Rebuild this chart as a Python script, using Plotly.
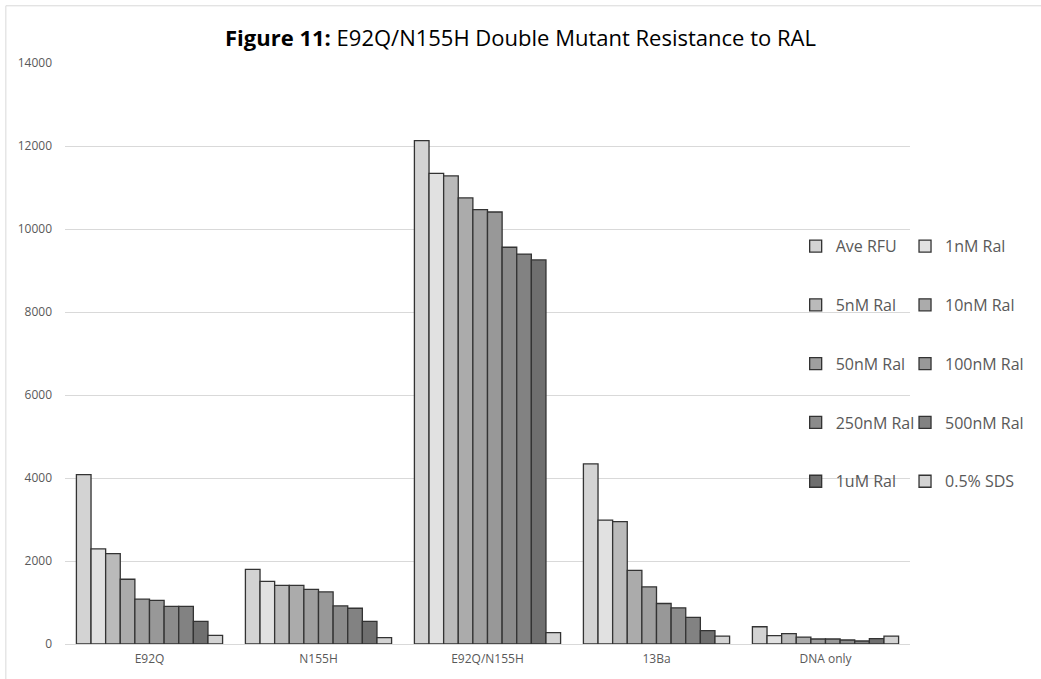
import plotly.graph_objects as go

# Categories on the x axis
samples = ["E92Q", "N155H", "E92Q/N155H", "13Ba", "DNA only"]

# Series names, in drawing order
series_names = [
    "Ave RFU", "1nM Ral", "5nM Ral", "10nM Ral", "50nM Ral",
    "100nM Ral", "250nM Ral", "500nM Ral", "1uM Ral", "0.5% SDS",
]

# Fluorescence values (RFU) per series, one value per sample
ave_rfu   = [4080, 1800, 12130, 4340, 416]
ral_1nm   = [2290, 1510, 11340, 2985, 200]
ral_5nm   = [2180, 1415, 11280, 2950, 248]
ral_10nm  = [1560, 1415, 10750, 1776, 168]
ral_50nm  = [1080, 1318, 10465, 1376, 120]
ral_100nm = [1050, 1255, 10410, 976, 120]
ral_250nm = [905, 918, 9560, 872, 96]
ral_500nm = [905, 862, 9395, 640, 72]
ral_1um   = [545, 545, 9255, 320, 128]
sds_05    = [208, 152, 272, 192, 192]

series_values = [
    ave_rfu, ral_1nm, ral_5nm, ral_10nm, ral_50nm,
    ral_100nm, ral_250nm, ral_500nm, ral_1um, sds_05,
]

# Grey ramp used for the bars
fills = [
    "#d3d3d3", "#e1e1e1", "#bababa", "#ababab", "#9f9f9f",
    "#989898", "#8b8b8b", "#828282", "#6f6f6f", "#d3d3d3",
]

TEXT_GREY = "#595959"
GRID_GREY = "#d9d9d9"
FONT = "Open Sans, Lato, Liberation Sans, sans-serif"

fig = go.Figure()
for i, (name, vals, col) in enumerate(zip(series_names, series_values, fills)):
    fig.add_trace(go.Bar(
        x=samples,
        y=vals,
        name=name,
        marker=dict(color=col, line=dict(color="#333333", width=1.3)),
        legend="legend" if i % 2 == 0 else "legend2",
        legendgroup=name,
    ))

W, H = 1041, 679
L, R, T, B = 65, 126, 63, 32
pw, ph = W - L - R, H - T - B

def px_x(x):
    return (x - L) / pw

def px_y(y):
    return (H - B - y) / ph

legend_common = dict(
    bgcolor="rgba(0,0,0,0)",
    font=dict(family=FONT, size=16, color=TEXT_GREY),
    tracegroupgap=35,
    yanchor="top",
    xanchor="left",
    itemclick=False,
)

fig.update_layout(
    width=W,
    height=H,
    margin=dict(l=L, r=R, t=T, b=B),
    paper_bgcolor="white",
    plot_bgcolor="white",
    barmode="group",
    bargap=0.135,
    bargroupgap=0,
    font=dict(family=FONT, color=TEXT_GREY),
    title=dict(
        text="<b>Figure 11:</b> E92Q/N155H Double Mutant Resistance to RAL",
        x=0.5,
        xref="container",
        xanchor="center",
        y=1 - 38 / H,
        yref="container",
        yanchor="middle",
        font=dict(family=FONT, size=22, color="#000000"),
    ),
    xaxis=dict(
        showgrid=False,
        showline=False,
        ticks="",
        tickfont=dict(family=FONT, size=12, color=TEXT_GREY),
        ticklabelstandoff=6,
    ),
    yaxis=dict(
        range=[0, 14000],
        dtick=2000,
        tickformat="d",
        showgrid=True,
        gridcolor=GRID_GREY,
        gridwidth=1,
        zeroline=True,
        zerolinecolor=GRID_GREY,
        zerolinewidth=1,
        showline=False,
        ticks="",
        tickfont=dict(family=FONT, size=12, color=TEXT_GREY),
        ticklabelstandoff=12,
    ),
    legend=dict(x=px_x(800), y=px_y(230), **legend_common),
    legend2=dict(x=px_x(910), y=px_y(230), **legend_common),
    showlegend=True,
    shapes=[
        # Chart-area frame
        dict(
            type="rect",
            xref="paper", yref="paper",
            x0=px_x(5.5), x1=px_x(W + 20),
            y0=px_y(H + 20), y1=px_y(5.5),
            line=dict(color=GRID_GREY, width=1),
            fillcolor="rgba(0,0,0,0)",
            layer="below",
        )
    ],
)

fig.write_html("out.html")
